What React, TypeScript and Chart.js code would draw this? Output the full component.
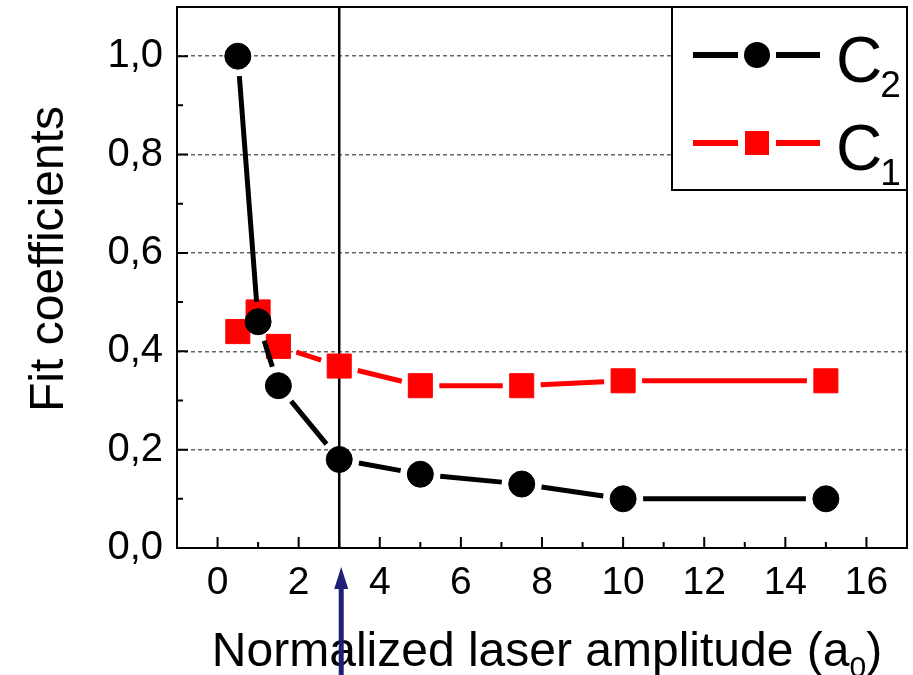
import React, { useEffect, useRef } from 'react';
import { Chart, registerables } from 'chart.js';

Chart.register(...registerables);

// ---- data ----
const xValues = [0.5, 1, 1.5, 3, 5, 7.5, 10, 15];
const c2Values = [1.0, 0.46, 0.33, 0.18, 0.15, 0.13, 0.10, 0.10];
const c1Values = [0.44, 0.48, 0.41, 0.37, 0.33, 0.33, 0.34, 0.34];
const xTickValues = [0, 2, 4, 6, 8, 10, 12, 14, 16];
const xMinorTickValues = [1, 3, 5, 7, 9, 11, 13, 15];
const yTickValues = [0, 0.2, 0.4, 0.6, 0.8, 1.0];
const yMinorTickValues = [0.1, 0.3, 0.5, 0.7, 0.9];
const markerLineX = 3;
const seriesNames = ['C', 'C'];
const seriesSubs = ['2', '1'];
const xTitleMain = 'Normalized laser amplitude (a';
const xTitleSub = '0';
const xTitleEnd = ')';
const yTitle = 'Fit coefficients';

const FONT = '"Liberation Sans", Arial, sans-serif';
const seriesColors = ['#000000', '#ff0000'];
const seriesGaps = [20, 19];

const zeroPadding = (scale: any) => {
  scale.paddingTop = 0;
  scale.paddingBottom = 0;
  scale.paddingLeft = 0;
  scale.paddingRight = 0;
};

const customPlugin = {
  id: 'custom',
  beforeDatasetsDraw(chart: any) {
    const { ctx, chartArea, scales } = chart;
    const x = scales.x.getPixelForValue(markerLineX);
    ctx.save();
    ctx.strokeStyle = '#000';
    ctx.lineWidth = 2.5;
    ctx.beginPath();
    ctx.moveTo(x, chartArea.top);
    ctx.lineTo(x, chartArea.bottom);
    ctx.stroke();
    ctx.restore();
  },
  beforeDatasetDraw(chart: any, args: any) {
    const { ctx } = chart;
    const pts = args.meta.data;
    const gap = seriesGaps[args.index];
    ctx.save();
    ctx.strokeStyle = seriesColors[args.index];
    ctx.lineWidth = 5;
    ctx.lineCap = 'butt';
    ctx.beginPath();
    for (let i = 0; i < pts.length - 1; i++) {
      const p = pts[i];
      const q = pts[i + 1];
      const dx = q.x - p.x;
      const dy = q.y - p.y;
      const d = Math.hypot(dx, dy);
      if (d > 2 * gap + 2) {
        const ux = dx / d;
        const uy = dy / d;
        ctx.moveTo(p.x + ux * gap, p.y + uy * gap);
        ctx.lineTo(q.x - ux * gap, q.y - uy * gap);
      }
    }
    ctx.stroke();
    ctx.restore();
  },
  afterDatasetsDraw(chart: any) {
    const { ctx, chartArea, scales } = chart;
    const { left, right, top, bottom } = chartArea;
    ctx.save();
    // ticks (inward)
    ctx.strokeStyle = '#000';
    ctx.lineWidth = 2;
    ctx.beginPath();
    xTickValues.forEach((v) => {
      const px = scales.x.getPixelForValue(v);
      ctx.moveTo(px, bottom);
      ctx.lineTo(px, bottom - 11);
    });
    xMinorTickValues.forEach((v) => {
      const px = scales.x.getPixelForValue(v);
      ctx.moveTo(px, bottom);
      ctx.lineTo(px, bottom - 6);
    });
    yTickValues.forEach((v) => {
      const py = scales.y.getPixelForValue(v);
      ctx.moveTo(left, py);
      ctx.lineTo(left + 11, py);
    });
    yMinorTickValues.forEach((v) => {
      const py = scales.y.getPixelForValue(v);
      ctx.moveTo(left, py);
      ctx.lineTo(left + 6, py);
    });
    ctx.stroke();

    // legend box
    const lx = 672;
    const ly = top;
    const lw = right - lx;
    const lh = 183;
    ctx.fillStyle = '#fff';
    ctx.fillRect(lx, ly, lw, lh);
    ctx.strokeStyle = '#000';
    ctx.lineWidth = 2;
    ctx.strokeRect(lx, ly, lw, lh);

    const rows = [55, 143];
    rows.forEach((ry, i) => {
      const col = seriesColors[i];
      const mx = 757;
      ctx.strokeStyle = col;
      ctx.lineWidth = 6;
      ctx.beginPath();
      ctx.moveTo(693, ry);
      ctx.lineTo(mx - 19, ry);
      ctx.moveTo(mx + 19, ry);
      ctx.lineTo(820, ry);
      ctx.stroke();
      ctx.fillStyle = col;
      if (i === 0) {
        ctx.beginPath();
        ctx.arc(mx, ry, 13, 0, Math.PI * 2);
        ctx.fill();
      } else {
        ctx.fillRect(mx - 12, ry - 12, 24, 24);
      }
      ctx.fillStyle = '#000';
      ctx.textAlign = 'left';
      ctx.textBaseline = 'alphabetic';
      ctx.font = `64px ${FONT}`;
      ctx.fillText(seriesNames[i], 836, ry + 27);
      const cw = ctx.measureText(seriesNames[i]).width;
      ctx.font = `37px ${FONT}`;
      ctx.fillText(seriesSubs[i], 836 + cw - 2, ry + 42);
    });

    // frame
    ctx.strokeStyle = '#000';
    ctx.lineWidth = 2;
    ctx.strokeRect(left, top, right - left, bottom - top);
    ctx.restore();
  },
  afterDraw(chart: any) {
    const { ctx, scales } = chart;
    ctx.save();
    ctx.fillStyle = '#000';
    // y title
    ctx.save();
    ctx.translate(63, 259);
    ctx.rotate(-Math.PI / 2);
    ctx.font = `48px ${FONT}`;
    ctx.textAlign = 'center';
    ctx.textBaseline = 'alphabetic';
    ctx.fillText(yTitle, 0, 0);
    ctx.restore();

    // x title with subscript
    ctx.textBaseline = 'alphabetic';
    ctx.textAlign = 'left';
    ctx.font = `48px ${FONT}`;
    const w1 = ctx.measureText(xTitleMain).width;
    const w3 = ctx.measureText(xTitleEnd).width;
    ctx.font = `30px ${FONT}`;
    const w2 = ctx.measureText(xTitleSub).width;
    const total = w1 + w2 + w3;
    const startX = 547 - total / 2;
    const baseY = 666;
    ctx.font = `48px ${FONT}`;
    ctx.fillText(xTitleMain, startX, baseY);
    ctx.font = `30px ${FONT}`;
    ctx.fillText(xTitleSub, startX + w1, baseY + 11);
    ctx.font = `48px ${FONT}`;
    ctx.fillText(xTitleEnd, startX + w1 + w2, baseY);

    // arrow
    const ax = scales.x.getPixelForValue(markerLineX) + 2;
    const acol = '#1f1f7a';
    ctx.strokeStyle = acol;
    ctx.fillStyle = acol;
    ctx.lineWidth = 5;
    ctx.beginPath();
    ctx.moveTo(ax, 584);
    ctx.lineTo(ax, 675);
    ctx.stroke();
    ctx.beginPath();
    ctx.moveTo(ax, 567);
    ctx.lineTo(ax - 7, 589);
    ctx.lineTo(ax + 7, 589);
    ctx.closePath();
    ctx.fill();
    ctx.restore();
  },
};

export default function App() {
  const canvasRef = useRef<HTMLCanvasElement | null>(null);

  useEffect(() => {
    if (!canvasRef.current) return;
    const chart = new Chart(canvasRef.current, {
      type: 'scatter',
      data: {
        datasets: [
          {
            label: 'C2',
            data: xValues.map((x, i) => ({ x, y: c2Values[i] })),
            showLine: false,
            pointStyle: 'circle',
            pointRadius: 13,
            pointBackgroundColor: '#000',
            pointBorderColor: '#000',
            pointBorderWidth: 1,
          },
          {
            label: 'C1',
            data: xValues.map((x, i) => ({ x, y: c1Values[i] })),
            showLine: false,
            pointStyle: 'rect',
            pointRadius: 17,
            pointBackgroundColor: '#ff0000',
            pointBorderColor: '#ff0000',
            pointBorderWidth: 1,
          },
        ],
      },
      options: {
        responsive: false,
        animation: false,
        devicePixelRatio: 1,
        layout: { autoPadding: false, padding: { top: 7, right: 6, left: 0, bottom: 0 } },
        plugins: { legend: { display: false }, tooltip: { enabled: false } },
        scales: {
          x: {
            type: 'linear',
            min: -1,
            max: 17,
            afterBuildTicks: (scale: any) => {
              scale.ticks = xTickValues.map((v) => ({ value: v }));
            },
            afterFit: (scale: any) => {
              scale.height = 127;
              zeroPadding(scale);
            },
            grid: { display: false, drawTicks: false },
            border: { display: false },
            ticks: {
              padding: 12,
              color: '#000',
              font: { family: FONT, size: 39 },
              maxRotation: 0,
              autoSkip: false,
              callback: (v: any) => String(v),
            },
          },
          y: {
            type: 'linear',
            min: 0,
            max: 1.1,
            afterBuildTicks: (scale: any) => {
              scale.ticks = yTickValues.map((v) => ({ value: v }));
            },
            afterFit: (scale: any) => {
              scale.width = 177;
              zeroPadding(scale);
            },
            grid: {
              drawTicks: false,
              lineWidth: 1.5,
              color: (c: any) => (c.tick && c.tick.value > 0.01 ? '#666' : 'rgba(0,0,0,0)'),
            },
            border: { display: false, dash: [4, 3] },
            ticks: {
              padding: 14,
              color: '#000',
              font: { family: FONT, size: 40 },
              autoSkip: false,
              callback: (v: any) => Number(v).toFixed(1).replace('.', ','),
            },
          },
        },
      },
      plugins: [customPlugin],
    } as any);
    return () => chart.destroy();
  }, []);

  return (
    <div style={{ position: 'fixed', left: 0, top: 0, width: 913, height: 675, background: '#fff' }}>
      <canvas ref={canvasRef} width={913} height={675} style={{ display: 'block' }} />
    </div>
  );
}
